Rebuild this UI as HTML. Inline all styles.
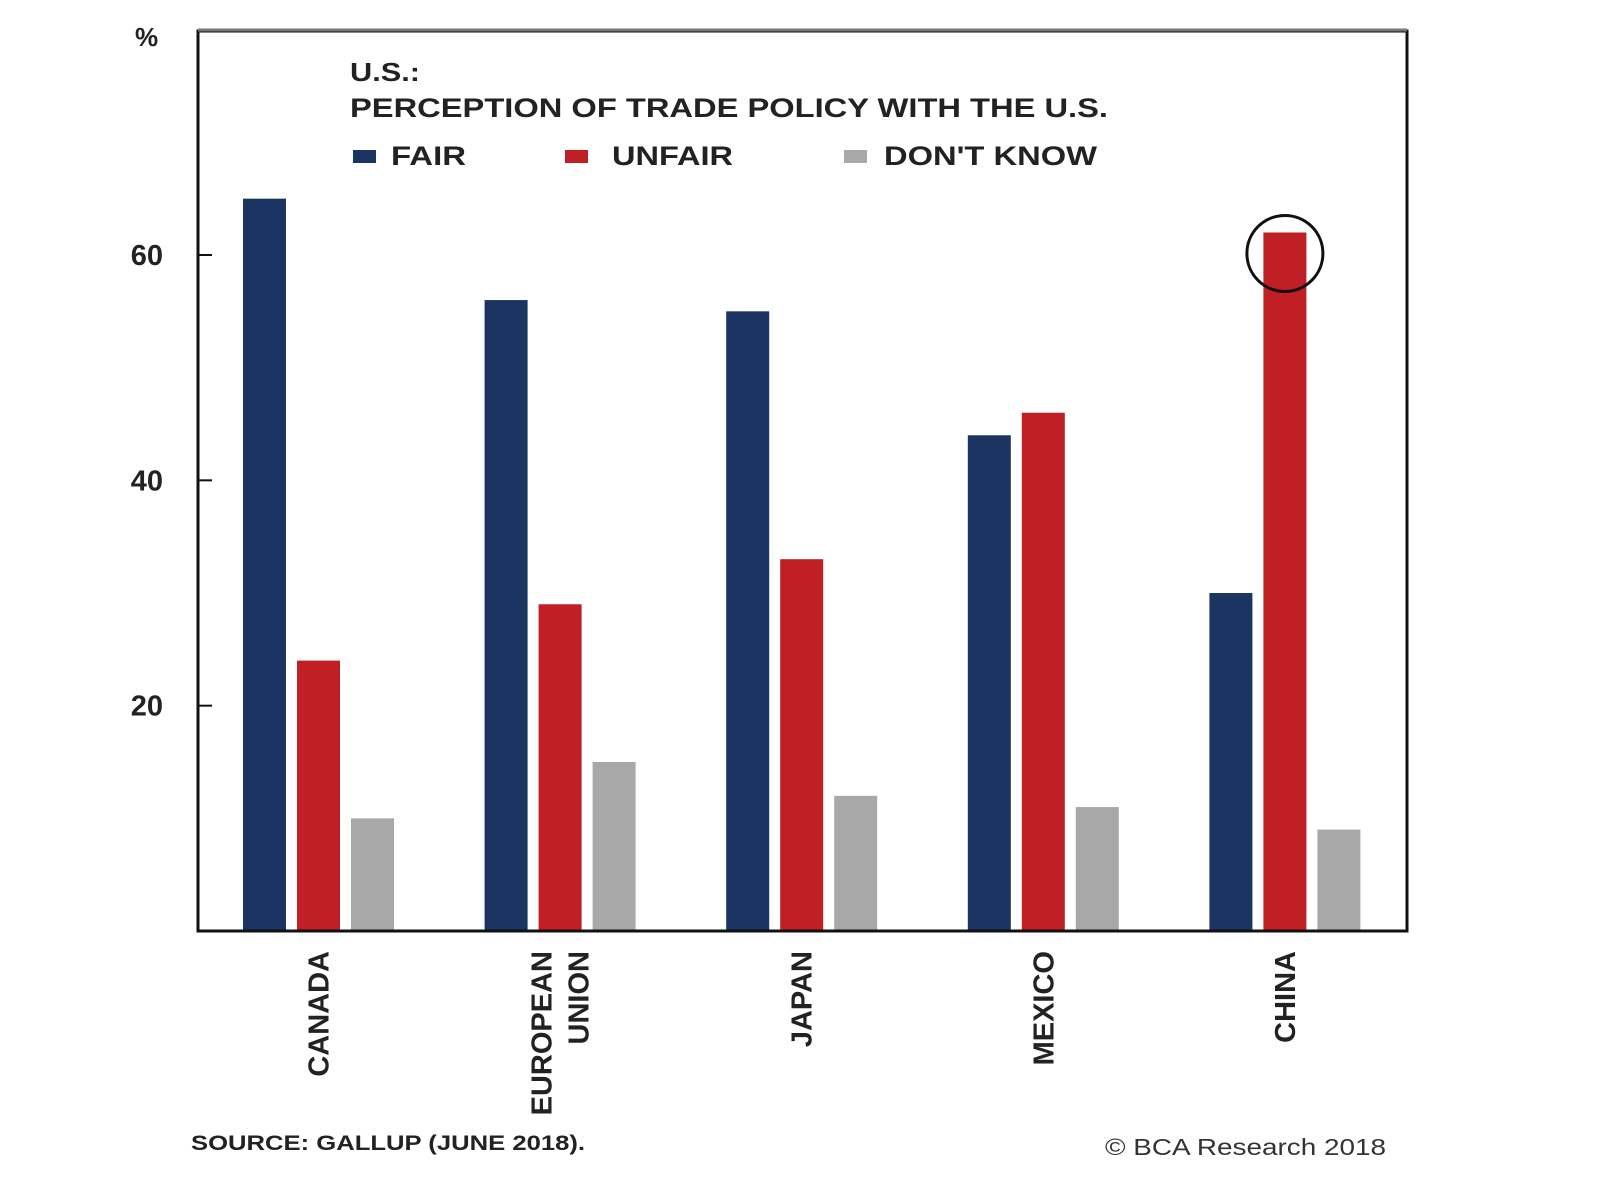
<!DOCTYPE html>
<html><head><meta charset="utf-8"><style>
body{margin:0;background:#fff;}
svg text{font-family:"Liberation Sans",Arial,sans-serif;}
</style></head><body>
<svg width="1600" height="1188" viewBox="0 0 1600 1188">
<rect x="0" y="0" width="1600" height="1188" fill="#fff"/>
<g id="bars"></g>
<rect x="198" y="31" width="1209" height="900" fill="none" stroke="#111" stroke-width="3"/>
<line x1="198" y1="30" x2="1407" y2="30" stroke="#777" stroke-width="3"/>
<g id="yticks"></g>
<text x="135" y="46" font-size="26" font-weight="bold" fill="#222">%</text>
<text x="350" y="81" font-size="26" font-weight="bold" fill="#222" textLength="70" lengthAdjust="spacingAndGlyphs">U.S.:</text>
<text x="350" y="117" font-size="27" font-weight="bold" fill="#222" textLength="758" lengthAdjust="spacingAndGlyphs">PERCEPTION OF TRADE POLICY WITH THE U.S.</text>
<g>
<rect x="353" y="150" width="23" height="13" fill="#1c3461"/>
<text x="391" y="165" font-size="27" font-weight="bold" fill="#222" textLength="75" lengthAdjust="spacingAndGlyphs">FAIR</text>
<rect x="565" y="150" width="23" height="13" fill="#c01f26"/>
<text x="612" y="165" font-size="27" font-weight="bold" fill="#222" textLength="121" lengthAdjust="spacingAndGlyphs">UNFAIR</text>
<rect x="844" y="150" width="23" height="13" fill="#a8a8a8"/>
<text x="884" y="165" font-size="27" font-weight="bold" fill="#222" textLength="213" lengthAdjust="spacingAndGlyphs">DON'T KNOW</text>
</g>
<g id="xlabels"></g>
<circle id="hl" cx="1299" cy="257" r="38" fill="none" stroke="#111" stroke-width="3"/>
<text x="191" y="1150" font-size="21" font-weight="bold" fill="#222" textLength="394" lengthAdjust="spacingAndGlyphs">SOURCE: GALLUP (JUNE 2018).</text>
<text x="1105" y="1155" font-size="23" fill="#333" textLength="281" lengthAdjust="spacingAndGlyphs">© BCA Research 2018</text>
</svg>
<script>
const categories=[["CANADA"],["EUROPEAN","UNION"],["JAPAN"],["MEXICO"],["CHINA"]];
const fairValues=[65,56,55,44,30];
const unfairValues=[24,29,33,46,62];
const dontKnowValues=[10,15,12,11,9];
const yTicks=[20,40,60];
const NS="http://www.w3.org/2000/svg";
const y0=931,pxPer=676/60;
function y(v){return y0-v*pxPer;}
function gx(i){return 243+i*241.6;}
const bw=43,step=54;
const series=[[fairValues,"#1c3461","fair"],[unfairValues,"#c01f26","unfair"],[dontKnowValues,"#a8a8a8","dontknow"]];
const bars=document.getElementById('bars');
categories.forEach((c,i)=>{
 series.forEach((s,j)=>{
  const r=document.createElementNS(NS,'rect');
  r.setAttribute('x',gx(i)+j*step);r.setAttribute('y',y(s[0][i]));
  r.setAttribute('width',bw);r.setAttribute('height',y0-y(s[0][i]));
  r.setAttribute('fill',s[1]);
  
  
  bars.appendChild(r);
 });
 const cx=gx(i)+step+bw/2;
 const t=document.createElementNS(NS,'text');
 t.setAttribute('transform','translate('+cx+',951) rotate(-90)');
 t.setAttribute('text-anchor','end');t.setAttribute('font-size','29');t.setAttribute('font-weight','bold');t.setAttribute('fill','#222');
 const n=c.length;
 c.forEach((line,k)=>{
  const ts=document.createElementNS(NS,'tspan');
  ts.setAttribute('x',0);ts.setAttribute('y',(k-(n-1)/2)*37+10);
  ts.textContent=line;t.appendChild(ts);
 });
 
 
 document.getElementById('xlabels').appendChild(t);
});
const hl=document.getElementById('hl');
hl.setAttribute('cx',gx(4)+step+bw/2);hl.setAttribute('cy',y(unfairValues[4])+21);
const yt=document.getElementById('yticks');
yTicks.forEach(v=>{
 const l=document.createElementNS(NS,'line');
 l.setAttribute('x1',198);l.setAttribute('x2',212);l.setAttribute('y1',y(v));l.setAttribute('y2',y(v));
 l.setAttribute('stroke','#111');l.setAttribute('stroke-width','2');
 
 
 yt.appendChild(l);
 const t=document.createElementNS(NS,'text');
 t.setAttribute('x',163);t.setAttribute('y',y(v)+10);t.setAttribute('text-anchor','end');
 t.setAttribute('font-size','29');t.setAttribute('font-weight','bold');t.setAttribute('fill','#222');
 t.textContent=v;
 
 
 yt.appendChild(t);
});
</script>
</body></html>
